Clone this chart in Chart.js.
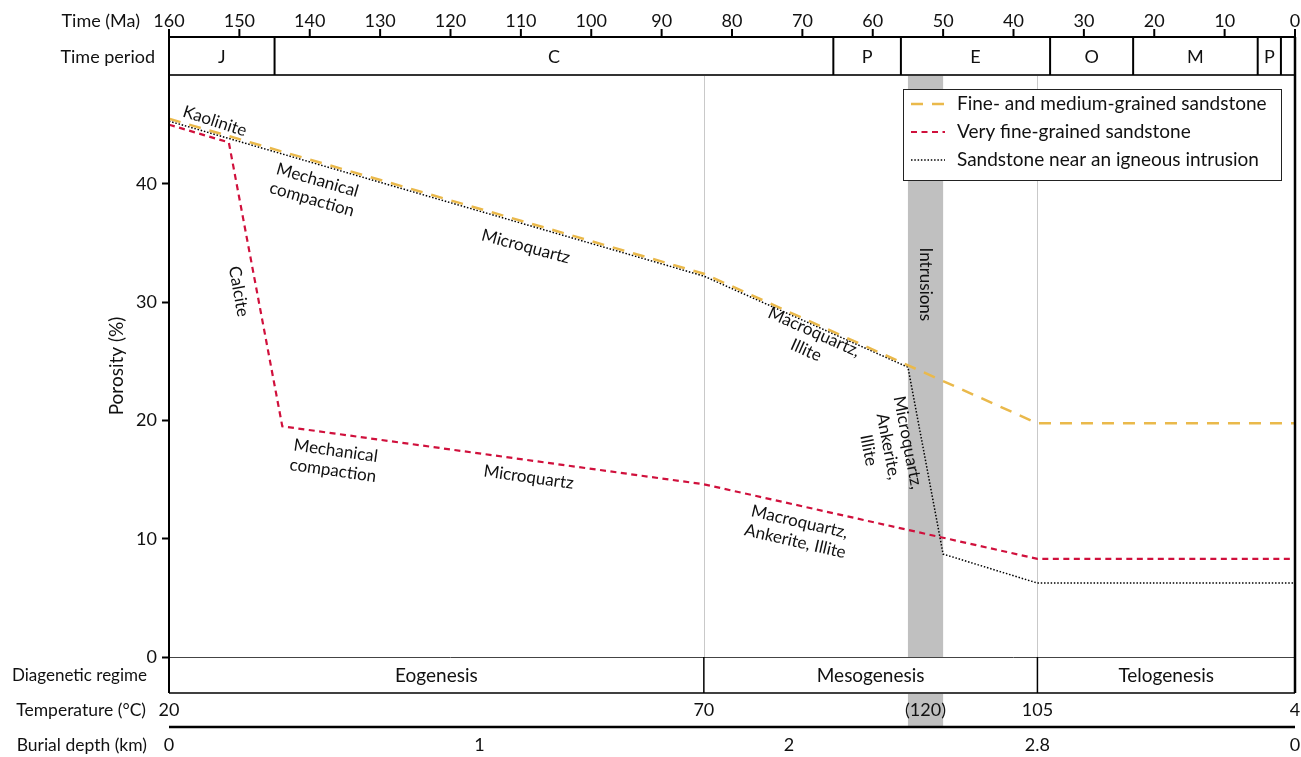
<!DOCTYPE html>
<html>
<head>
<meta charset="utf-8">
<script src="https://cdn.jsdelivr.net/npm/chart.js@4.4.1/dist/chart.umd.min.js"></script>
<style>
  html, body { margin: 0; padding: 0; background: #fff; }
  canvas { display: block; }
</style>
</head>
<body>
<canvas id="porosity" width="1301" height="757"></canvas>
<script>
// ---- data ----
const timeTicks = [160, 150, 140, 130, 120, 110, 100, 90, 80, 70, 60, 50, 40, 30, 20, 10, 0];
const periodNames = ['J', 'C', 'P', 'E', 'O', 'M', 'P', ''];
const periodBounds = [160, 145, 65.6, 56, 34.8, 23, 5.3, 2, 0];
const regimeNames = ['Eogenesis', 'Mesogenesis', 'Telogenesis'];
const regimeBounds = [160, 84, 36.6, 0];
const intrusionSpan = [55, 50];
const temperatureAt = [160, 84, 52.5, 36.6, 0];
const temperatureLabels = ['20', '70', '(120)', '105', '4'];
const depthAt = [160, 115.9, 71.9, 36.6, 0];
const depthLabels = ['0', '1', '2', '2.8', '0'];
const porosityTicks = [0, 10, 20, 30, 40];

const fineMediumTime = [160, 84, 36.6, 0];
const fineMediumPorosity = [45.5, 32.4, 19.75, 19.75];
const veryFineTime = [160, 151.5, 143.9, 84, 36.6, 0];
const veryFinePorosity = [45.0, 43.5, 19.5, 14.6, 8.3, 8.3];
const nearIntrusionTime = [160, 84, 55, 50, 36.6, 0];
const nearIntrusionPorosity = [45.3, 32.2, 24.5, 8.7, 6.25, 6.25];

const seriesNames = [
  'Fine- and medium-grained sandstone',
  'Very fine-grained sandstone',
  'Sandstone near an igneous intrusion'
];

// ---- drawing ----
const FONT = 'Lato, "Open Sans", sans-serif';
const GOLD = '#EAB94B';
const RED = '#D0103C';

const zip = (ts, vs) => ts.map((t, i) => ({ x: t, y: vs[i] }));

// process labels written along the curves (placed in time / porosity units)
const notes = [
  { text: 'Kaolinite', t: 153.5, v: 45.3, angle: 18 },
  { text: 'Mechanical\ncompaction', t: 139.3, v: 39.5, angle: 16 },
  { text: 'Microquartz', t: 109.3, v: 34.7, angle: 15 },
  { text: 'Calcite', t: 150.1, v: 30.9, angle: 80 },
  { text: 'Macroquartz,\nIllite', t: 68.9, v: 26.7, angle: 24 },
  { text: 'Microquartz,\nAnkerite,\nIllite', t: 57.8, v: 17.8, angle: 79 },
  { text: 'Mechanical\ncompaction', t: 136.5, v: 16.6, angle: 8 },
  { text: 'Microquartz', t: 108.9, v: 15.2, angle: 8 },
  { text: 'Macroquartz,\nAnkerite, Illite', t: 70.7, v: 10.6, angle: 13 },
  { text: 'Intrusions', t: 52.5, v: 31.5, angle: 90 }
];

function line(ctx, x1, y1, x2, y2, w, color) {
  ctx.beginPath();
  ctx.lineWidth = w;
  ctx.strokeStyle = color;
  ctx.moveTo(x1, y1);
  ctx.lineTo(x2, y2);
  ctx.stroke();
}

function text(ctx, s, x, y, align, size) {
  ctx.font = size + 'px ' + FONT;
  ctx.textAlign = align;
  ctx.textBaseline = 'middle';
  ctx.fillStyle = '#111';
  ctx.fillText(s, x, y);
}

const frame = {
  id: 'frame',
  beforeDatasetsDraw(chart) {
    const { ctx, chartArea: a, scales: { x } } = chart;
    ctx.save();
    // regime boundaries as faint vertical guides
    regimeBounds.slice(1, -1).forEach(t => {
      const px = Math.round(x.getPixelForValue(t)) + 0.5;
      line(ctx, px, a.top, px, a.bottom, 1, '#c9c9c9');
    });
    // intrusion period
    const x1 = x.getPixelForValue(intrusionSpan[0]);
    const x2 = x.getPixelForValue(intrusionSpan[1]);
    ctx.fillStyle = '#c0c0c0';
    ctx.fillRect(x1, a.top, x2 - x1, a.bottom - a.top);
    ctx.fillRect(x1, 694, x2 - x1, 32);
    ctx.restore();
  },
  afterDatasetsDraw(chart) {
    const { ctx, chartArea: a, scales: { x, y } } = chart;
    const L = a.left, R = a.right;
    ctx.save();

    // labels along curves
    ctx.font = '17px ' + FONT;
    ctx.fillStyle = '#111';
    ctx.textAlign = 'center';
    ctx.textBaseline = 'middle';
    notes.forEach(n => {
      const lines = n.text.split('\n');
      ctx.save();
      ctx.translate(x.getPixelForValue(n.t), y.getPixelForValue(n.v));
      ctx.rotate(n.angle * Math.PI / 180);
      lines.forEach((s, i) => ctx.fillText(s, 0, (i - (lines.length - 1) / 2) * 20));
      ctx.restore();
    });

    // legend
    const lx = 903.5, ly = 89.5, lw = 378, lh = 91;
    ctx.fillStyle = '#fff';
    ctx.fillRect(lx, ly, lw, lh);
    ctx.lineWidth = 1;
    ctx.strokeStyle = '#222';
    ctx.strokeRect(lx, ly, lw, lh);
    const rows = [104, 132, 160];
    chart.data.datasets.forEach((ds, i) => {
      ctx.save();
      ctx.setLineDash(ds.borderDash);
      line(ctx, 911, rows[i], 945, rows[i], ds.borderWidth, ds.borderColor);
      ctx.restore();
      text(ctx, ds.label, 957, rows[i], 'left', 19);
    });

    // top time axis and geological periods
    line(ctx, L - 1, 37, R + 1, 37, 2, '#000');
    line(ctx, L, 75, R, 75, 2, '#333');
    timeTicks.forEach(t => {
      const px = x.getPixelForValue(t);
      line(ctx, px, 29, px, 37, 2, '#000');
      text(ctx, String(t), px, 21, 'center', 18);
    });
    periodBounds.slice(1, -1).forEach(t => {
      const px = x.getPixelForValue(t);
      line(ctx, px, 37, px, 75, 2, '#000');
    });
    periodNames.forEach((p, i) => {
      if (!p) return;
      const c = (x.getPixelForValue(periodBounds[i]) + x.getPixelForValue(periodBounds[i + 1])) / 2;
      text(ctx, p, c, 57, 'center', 18);
    });

    // diagenetic regime boxes
    line(ctx, L, a.bottom + 0.5, R, a.bottom + 0.5, 1, '#444');
    line(ctx, L, 693, R, 693, 1.5, '#000');
    regimeBounds.slice(1, -1).forEach(t => {
      const px = x.getPixelForValue(t);
      line(ctx, px, a.bottom, px, 693, 1.5, '#000');
    });
    regimeNames.forEach((r, i) => {
      const c = (x.getPixelForValue(regimeBounds[i]) + x.getPixelForValue(regimeBounds[i + 1])) / 2;
      text(ctx, r, c, 676, 'center', 19);
    });

    // outer vertical edges
    line(ctx, L, 37, L, 693, 2, '#000');
    line(ctx, R, 37, R, 693, 2.5, '#000');

    // temperature and burial depth rows
    temperatureLabels.forEach((s, i) => text(ctx, s, x.getPixelForValue(temperatureAt[i]), 710, 'center', 18));
    line(ctx, L, 727, R, 727, 2.5, '#000');
    depthLabels.forEach((s, i) => text(ctx, s, x.getPixelForValue(depthAt[i]), 745, 'center', 18));

    // row titles
    text(ctx, 'Time (Ma)', 140, 21, 'right', 18);
    text(ctx, 'Time period', 155, 57, 'right', 18);
    text(ctx, 'Diagenetic regime', 147, 676, 'right', 17);
    text(ctx, 'Temperature (°C)', 146, 710, 'right', 17.5);
    text(ctx, 'Burial depth (km)', 147, 745, 'right', 17.5);

    // y-axis title
    ctx.save();
    ctx.translate(117, 366);
    ctx.rotate(-Math.PI / 2);
    text(ctx, 'Porosity (%)', 0, 0, 'center', 19);
    ctx.restore();

    ctx.restore();
  }
};

new Chart(document.getElementById('porosity'), {
  type: 'line',
  data: {
    datasets: [
      {
        label: seriesNames[0],
        data: zip(fineMediumTime, fineMediumPorosity),
        borderColor: GOLD, borderWidth: 2.5, borderDash: [12, 9]
      },
      {
        label: seriesNames[1],
        data: zip(veryFineTime, veryFinePorosity),
        borderColor: RED, borderWidth: 2.2, borderDash: [6, 4.5]
      },
      {
        label: seriesNames[2],
        data: zip(nearIntrusionTime, nearIntrusionPorosity),
        borderColor: '#000', borderWidth: 1.5, borderDash: [1.5, 1.8]
      }
    ].map(d => Object.assign(d, { pointRadius: 0, fill: false, tension: 0 }))
  },
  options: {
    responsive: false,
    animation: false,
    devicePixelRatio: 1,
    layout: { padding: { top: 75, right: 6, bottom: 100, left: 0 } },
    plugins: { legend: { display: false }, tooltip: { enabled: false } },
    scales: {
      x: { type: 'linear', min: 0, max: 160, reverse: true, display: false },
      y: {
        type: 'linear', min: 0, max: 49.2,
        afterFit(s) { s.width = 169; },
        afterBuildTicks(s) { s.ticks = porosityTicks.map(v => ({ value: v })); },
        ticks: { color: '#111', font: { family: FONT, size: 18 }, padding: 5 },
        grid: { drawOnChartArea: false, tickLength: 7, tickColor: '#000', tickWidth: 2 },
        border: { color: '#000', width: 2 }
      }
    }
  },
  plugins: [frame]
});
</script>
</body>
</html>
